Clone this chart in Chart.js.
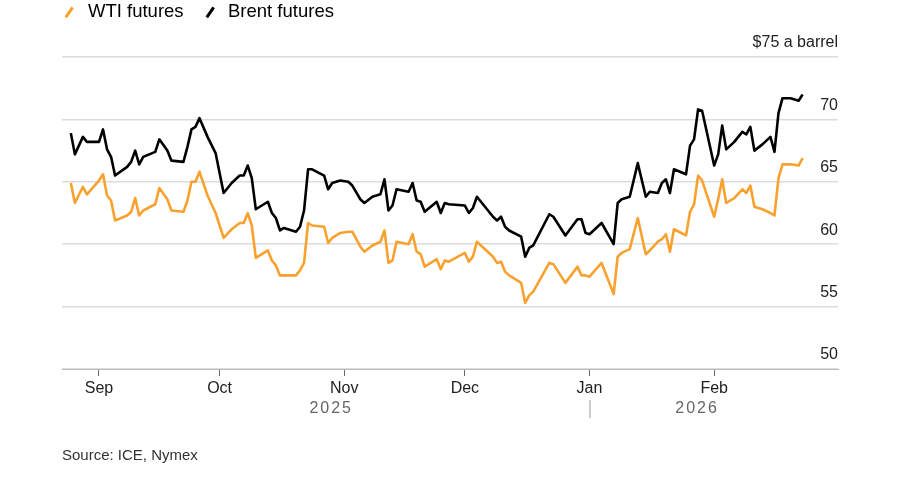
<!DOCTYPE html>
<html>
<head>
<meta charset="utf-8">
<script src="https://cdn.jsdelivr.net/npm/chart.js@4.4.1/dist/chart.umd.min.js"></script>
<style>
  html, body { margin: 0; padding: 0; background: #fff; }
  #wrap { position: relative; width: 900px; height: 478px; font-family: "Liberation Sans", Arial, sans-serif; }
  #chart { position: absolute; left: 0; top: 0; }
  .sw { position: absolute; width: 12px; height: 2.5px; transform: rotate(-55deg); }
  .lg { position: absolute; top: 0; font-size: 18.5px; line-height: 22px; color: #000; }
  #source { position: absolute; left: 62px; top: 446px; font-size: 15px; line-height: 17px; color: #333; }
</style>
</head>
<body>
<div id="wrap">
  <canvas id="chart" width="900" height="478"></canvas>
  <div class="sw" style="left:63px;top:10.5px;background:#f9a12f"></div>
  <div class="lg" style="left:88px">WTI futures</div>
  <div class="sw" style="left:204px;top:10.5px;background:#000"></div>
  <div class="lg" style="left:228px">Brent futures</div>
  <div id="source">Source: ICE, Nymex</div>
</div>
<script>
const dates = [
  "2025-08-25", "2025-08-26", "2025-08-28", "2025-08-29", "2025-09-01", "2025-09-02", "2025-09-03", "2025-09-04", "2025-09-05",
  "2025-09-08", "2025-09-09", "2025-09-10", "2025-09-11", "2025-09-12", "2025-09-15", "2025-09-16", "2025-09-18", "2025-09-19",
  "2025-09-22", "2025-09-23", "2025-09-24", "2025-09-25", "2025-09-26", "2025-09-28", "2025-09-30",
  "2025-10-02", "2025-10-04", "2025-10-06", "2025-10-07", "2025-10-08", "2025-10-09", "2025-10-10", "2025-10-12", "2025-10-13", "2025-10-14", "2025-10-15", "2025-10-16", "2025-10-17",
  "2025-10-20", "2025-10-21", "2025-10-22", "2025-10-23", "2025-10-24", "2025-10-27", "2025-10-28", "2025-10-29", "2025-10-31",
  "2025-11-02", "2025-11-03", "2025-11-05", "2025-11-06", "2025-11-08", "2025-11-10", "2025-11-11", "2025-11-12", "2025-11-13", "2025-11-14",
  "2025-11-17", "2025-11-18", "2025-11-19", "2025-11-20", "2025-11-21", "2025-11-24", "2025-11-25", "2025-11-26", "2025-11-27",
  "2025-12-01", "2025-12-02", "2025-12-03", "2025-12-04", "2025-12-08", "2025-12-09", "2025-12-10", "2025-12-11", "2025-12-12",
  "2025-12-15", "2025-12-16", "2025-12-17", "2025-12-18", "2025-12-22", "2025-12-23", "2025-12-26", "2025-12-29", "2025-12-30", "2025-12-31",
  "2026-01-01", "2026-01-04", "2026-01-07", "2026-01-08", "2026-01-09", "2026-01-11", "2026-01-13", "2026-01-15", "2026-01-16", "2026-01-18", "2026-01-19", "2026-01-20", "2026-01-21", "2026-01-22",
  "2026-01-25", "2026-01-26", "2026-01-27", "2026-01-28", "2026-01-29",
  "2026-02-01", "2026-02-02", "2026-02-03", "2026-02-04", "2026-02-06", "2026-02-08", "2026-02-09", "2026-02-10", "2026-02-11", "2026-02-13", "2026-02-15", "2026-02-16", "2026-02-17", "2026-02-18", "2026-02-20", "2026-02-22", "2026-02-23"
];

const wti = [
  64.9, 63.3, 64.6, 64.0, 65.1, 65.6, 63.9, 63.5, 61.9,
  62.3, 62.6, 63.7, 62.3, 62.7, 63.2, 64.5, 63.6, 62.7,
  62.6, 63.5, 65.0, 65.0, 65.8, 63.9, 62.5,
  60.5, 61.2, 61.7, 61.7, 62.5, 61.5, 58.9, 59.3, 59.5, 58.7, 58.3, 57.5, 57.5,
  57.5, 57.9, 58.5, 61.7, 61.5, 61.4, 60.1, 60.5, 60.9,
  61.0, 61.0, 59.8, 59.4, 59.9, 60.2, 61.1, 58.5, 58.7, 60.2,
  60.0, 60.8, 59.4, 59.2, 58.2, 58.8, 58.0, 58.7, 58.6,
  59.3, 58.6, 59.0, 60.2, 59.0, 58.5, 58.6, 57.8, 57.5,
  56.9, 55.3, 55.9, 56.2, 58.5, 58.4, 56.9, 58.2, 57.5, 57.5,
  57.4, 58.5, 56.0, 59.0, 59.3, 59.6, 62.1, 59.2, 59.5, 60.2, 60.4, 60.8, 59.4, 61.2,
  60.7, 62.6, 63.2, 65.5, 65.1,
  62.2, 63.6, 65.2, 63.3, 63.7, 64.4, 64.1, 64.7, 63.0, 62.8, 62.5, 62.3, 65.3, 66.4, 66.4, 66.3, 66.9
];

const brent = [
  68.9, 67.2, 68.6, 68.2, 68.2, 69.2, 67.6, 67.0, 65.5,
  66.2, 66.6, 67.5, 66.4, 67.0, 67.4, 68.4, 67.5, 66.7,
  66.6, 67.8, 69.2, 69.4, 70.1, 68.6, 67.3,
  64.1, 64.9, 65.5, 65.5, 66.3, 65.3, 62.8, 63.2, 63.4, 62.5, 62.1, 61.1, 61.3,
  61.0, 61.4, 62.7, 66.0, 66.0, 65.5, 64.4, 64.9, 65.1,
  65.0, 64.7, 63.6, 63.3, 63.8, 64.0, 65.2, 62.7, 63.1, 64.4,
  64.2, 64.9, 63.5, 63.4, 62.6, 63.4, 62.5, 63.3, 63.2,
  63.1, 62.5, 62.9, 63.8, 62.2, 61.9, 62.2, 61.4, 61.1,
  60.6, 59.0, 59.7, 59.9, 62.4, 62.2, 60.7, 62.0, 62.0, 60.9,
  60.8, 61.7, 60.0, 63.3, 63.6, 63.8, 66.5, 63.8, 64.2, 64.1, 64.9, 65.2, 64.1, 66.0,
  65.6, 67.9, 68.4, 70.8, 70.7,
  66.3, 67.2, 69.5, 67.6, 68.2, 69.0, 68.8, 69.4, 67.5, 68.0, 68.6, 67.4, 70.5, 71.7, 71.7, 71.5, 72.0
];

const monthTicks = ["2025-09-01", "2025-10-01", "2025-11-01", "2025-12-01", "2026-01-01", "2026-02-01"];
const monthLabels = ["Sep", "Oct", "Nov", "Dec", "Jan", "Feb"];
const yearLabels = ["2025", "2026"];
const yearStart = "2026-01-01";
const yTicks = [50, 55, 60, 65, 70, 75];

// days counted from 1 Sep 2025, used as a plain linear x axis
const base = Date.UTC(2025, 8, 1);
function dayNum(s) {
  const p = s.split("-").map(Number);
  return (Date.UTC(p[0], p[1] - 1, p[2]) - base) / 86400000;
}

const ORANGE = "#f9a12f";

const yearsPlugin = {
  id: "years",
  afterDraw(chart) {
    const ctx = chart.ctx;
    const x = chart.scales.x;
    const first = x.getPixelForValue(dayNum(dates[0]));
    const last = x.getPixelForValue(dayNum(dates[dates.length - 1]));
    const split = x.getPixelForValue(dayNum(yearStart));
    ctx.save();
    ctx.strokeStyle = "#999";
    ctx.lineWidth = 1;
    ctx.beginPath();
    ctx.moveTo(split + 0.5, 400);
    ctx.lineTo(split + 0.5, 418);
    ctx.stroke();
    ctx.font = '16px "Liberation Sans", Arial, sans-serif';
    ctx.fillStyle = "#666";
    ctx.textAlign = "center";
    ctx.textBaseline = "middle";
    ctx.letterSpacing = "2px";
    ctx.fillText(yearLabels[0], (first + split) / 2 + 1, 409);
    ctx.fillText(yearLabels[1], (split + last) / 2 + 1, 409);
    ctx.restore();
  }
};

new Chart(document.getElementById("chart"), {
  type: "line",
  data: {
    datasets: [
      {
        label: "WTI futures",
        data: dates.map((d, i) => ({ x: dayNum(d), y: wti[i] })),
        borderColor: ORANGE,
        borderWidth: 2.6,
        pointRadius: 0,
        tension: 0,
        borderJoinStyle: "round",
      },
      {
        label: "Brent futures",
        data: dates.map((d, i) => ({ x: dayNum(d), y: brent[i] })),
        borderColor: "#000",
        borderWidth: 2.6,
        pointRadius: 0,
        tension: 0,
        borderJoinStyle: "round",
      },
    ],
  },
  options: {
    responsive: false,
    animation: false,
    layout: { padding: { left: 62, right: 62, top: 57, bottom: 79 } },
    plugins: { legend: { display: false }, tooltip: { enabled: false } },
    scales: {
      x: {
        type: "linear",
        min: -9.2,
        max: 183.8,
        afterBuildTicks: (s) => { s.ticks = monthTicks.map((m) => ({ value: dayNum(m) })); },
        afterFit: (s) => { s.height = 30; },
        ticks: {
          autoSkip: false,
          maxRotation: 0,
          padding: 3,
          color: "#222",
          font: { family: '"Liberation Sans", Arial, sans-serif', size: 16 },
          callback: (v, i) => monthLabels[i],
        },
        grid: { drawOnChartArea: false, drawTicks: true, tickLength: 7, color: "#666" },
        border: { display: true, color: "#bbb" },
      },
      y: {
        position: "right",
        min: 50,
        max: 75,
        afterBuildTicks: (s) => { s.ticks = yTicks.map((v) => ({ value: v })); },
        afterFit: (s) => { s.width = 0; },
        ticks: {
          mirror: true,
          padding: 0,
          labelOffset: -14,
          color: "#222",
          font: { family: '"Liberation Sans", Arial, sans-serif', size: 16 },
          callback: (v) => (v === 75 ? "$75 a barrel" : v),
        },
        grid: { color: "#dcdcdc", lineWidth: 1.5, drawTicks: false },
        border: { display: false },
      },
    },
  },
  plugins: [yearsPlugin],
});
</script>
</body>
</html>
